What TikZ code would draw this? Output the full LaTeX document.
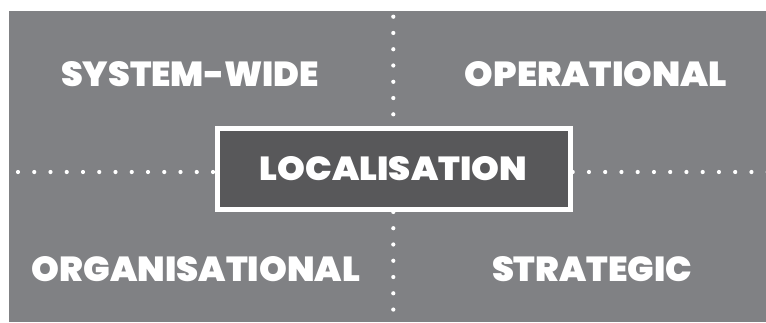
\documentclass[tikz,border=0pt]{standalone}
\usepackage{fontspec}
\setmainfont{Poppins}[BoldFont={* Black}]
\usepackage{graphicx}
\definecolor{bggrey}{HTML}{808184}
\definecolor{boxdark}{HTML}{58585A}
\tikzset{
  lbl/.style={inner sep=0pt, text=white, font=\bfseries},
  centrebox/.style={draw=white, line width=5pt, fill=boxdark, inner sep=0pt, minimum width=353pt, minimum height=81pt},
  dotmark/.style={fill=white}
}
\newcommand{\fitlbl}[3]{\resizebox{#1pt}{#2pt}{#3}}
\begin{document}
\begin{tikzpicture}[x=1pt,y=-1pt]
\useasboundingbox (0,0) rectangle (766,322);
\fill[bggrey] (9,11) rectangle (766,322);
% dotted dividers
\foreach \i in {0,...,18} \fill[dotmark] (393.3,{16.7+16.27*\i}) circle (2.1pt);
\foreach \i in {0,...,12} \fill[dotmark] ({18+16.25*\i},172) circle (2.1pt);
\foreach \i in {0,...,12} \fill[dotmark] ({572.7+16.25*\i},172) circle (2.1pt);
% centre box
\node[centrebox] (loc) at (394,169) {};
\node[lbl] (loct) at (393.5,169) {\fitlbl{267}{24}{LOCALISATION}};
% quadrant labels
\node[lbl] (sw) at (190,74) {\fitlbl{258}{25}{SYSTEM-WIDE}};
\node[lbl] (op) at (596,74) {\fitlbl{262}{25}{OPERATIONAL}};
\node[lbl] (org) at (196,269) {\fitlbl{328}{25}{ORGANISATIONAL}};
\node[lbl] (st) at (592,269.5) {\fitlbl{200}{25}{STRATEGIC}};
\end{tikzpicture}
\end{document}
